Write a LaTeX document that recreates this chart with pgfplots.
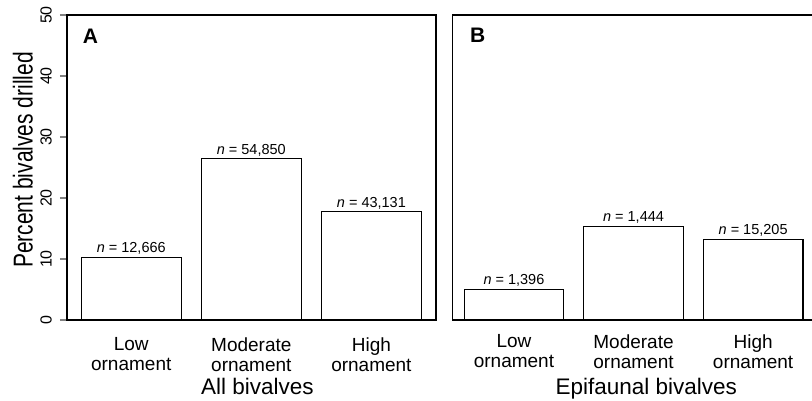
\documentclass[border=0pt]{standalone}
\usepackage{fontspec}
\setmainfont{Liberation Sans}
\usepackage{graphicx}
\usepackage{pgfplots}
\pgfplotsset{compat=1.18}
\begin{document}
\begin{tikzpicture}
\useasboundingbox (0,0) rectangle (812pt,-401pt);
\pgfplotsset{
 common/.style={
  scale only axis, height=305pt, ymin=0, ymax=50,
  ybar, bar shift=0pt, bar width=0.833,
  axis line style={line width=1.2pt},
  xtick={0,1,2}, xtick style={draw=none},
  xticklabels={Low\\ornament, Moderate\\ornament, High\\ornament},
  xticklabel style={align=center, font=\fontsize{19}{20}\selectfont, yshift=-7pt},
  xlabel style={font=\fontsize{22.5}{23}\selectfont, at={(rel axis cs:0.5,0)}, anchor=base, yshift=-74pt},
  nodes near coords, point meta=explicit symbolic,
  nodes near coords style={font=\fontsize{14.5}{14.5}\selectfont, anchor=south, inner sep=2pt},
  /pgf/number format/assume math mode=true,
  clip=false,
 }
}
\begin{axis}[common,
  at={(67pt,-320pt)}, anchor=south west, width=369pt,
  xmin=-0.535, xmax=2.538,
  ytick={0,10,20,30,40,50}, ytick pos=left, tick align=outside,
  major tick length=7pt, ytick style={line width=1.2pt},
  yticklabels={0,10,20,30,40,50},
  yticklabel style={font=\fontsize{16}{16}\selectfont, rotate=90, anchor=south, inner sep=0pt},
  yticklabel shift=8pt,
  xlabel={All bivalves}, xlabel style={xshift=6pt}]
\addplot[fill=white, draw=black, line width=1.2pt] coordinates {
 (0,10.28) [\textit{n} = 12,666]
 (1,26.44) [\textit{n} = 54,850]
 (2,17.75) [\textit{n} = 43,131]
};
\node[anchor=base west, font=\bfseries\fontsize{21}{21}\selectfont, inner sep=0pt] at (rel axis cs:0.0425,0.905) {A};
\end{axis}
\begin{axis}[common,
  at={(452.7pt,-320pt)}, anchor=south west, width=361.3pt,
  xmin=-0.512, xmax=2.509,
  ytick=\empty,
  xlabel={Epifaunal bivalves}, xlabel style={xshift=13pt}]
\addplot[fill=white, draw=black, line width=1.2pt] coordinates {
 (0,5.03) [\textit{n} = 1,396]
 (1,15.36) [\textit{n} = 1,444]
 (2,13.23) [\textit{n} = 15,205]
};
\node[anchor=base west, font=\bfseries\fontsize{21}{21}\selectfont, inner sep=0pt] at (rel axis cs:0.048,0.911) {B};
\end{axis}
\node[rotate=90, anchor=south, inner sep=0pt, font=\fontsize{21}{21}\selectfont] at (33pt,-160pt) {\scalebox{1}[1.3]{Percent bivalves drilled}};
\end{tikzpicture}
\end{document}
